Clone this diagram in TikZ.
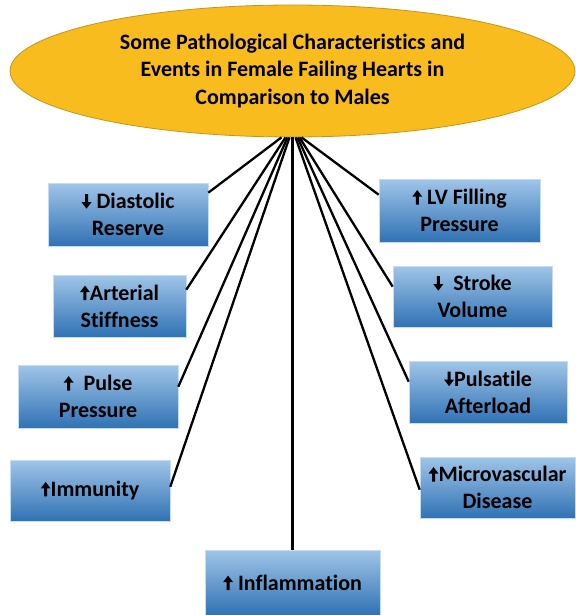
\documentclass[tikz,border=0pt]{standalone}
\usepackage{fontspec}
\setmainfont{Carlito}[Ligatures=NoCommon]
\usetikzlibrary{shapes.geometric}

\definecolor{ouro}{RGB}{248,188,30}
\definecolor{ourobordo}{RGB}{196,150,20}
\definecolor{azulclaro}{RGB}{160,197,232}
\definecolor{azulescuro}{RGB}{48,114,180}

% setas cheias dentro do texto
\newcommand{\sobe}{\tikz[baseline=0pt,x=1pt,y=1pt]\fill[black]
   (-1.5,0) -- (-1.5,8) -- (-5,8) -- (0,14.5) -- (5,8) -- (1.5,8) -- (1.5,0) -- cycle;}
\newcommand{\desce}{\tikz[baseline=0pt,x=1pt,y=1pt]\fill[black]
   (-1.5,14.5) -- (-1.5,6.5) -- (-5,6.5) -- (0,0) -- (5,6.5) -- (1.5,6.5) -- (1.5,14.5) -- cycle;}

\tikzset{
   caixa/.style={rectangle, top color=azulclaro, bottom color=azulescuro,
      draw=azulclaro!60, line width=.6pt, align=center, inner sep=2pt,
      font=\bfseries\fontsize{22}{27}\selectfont},
   titulo/.style={ellipse, fill=ouro, draw=ourobordo, line width=.8pt,
      align=center, font=\bfseries\fontsize{22}{27.5}\selectfont},
   haste/.style={line width=2.3pt, color=black}
}

\begin{document}
\begin{tikzpicture}[x=1pt,y=-1pt]
   \useasboundingbox (0,0) rectangle (575,615);

   \node[titulo, minimum width=565pt, minimum height=132pt, inner sep=0pt] (centro) at (292.5,71)
      {Some Pathological Characteristics and\\Events in Female Failing Hearts in\\Comparison to Males};

   % lado esquerdo
   \node[caixa, minimum width=160pt, minimum height=63pt] (diast) at (128,214.5) {\desce\ Diastolic\\Reserve};
   \node[caixa, minimum width=133pt, minimum height=62pt] (arter) at (119.5,306) {\sobe Arterial\\Stiffness};
   \node[caixa, minimum width=160pt, minimum height=63pt] (pulso) at (98,396.5) {\sobe\ \ Pulse\\Pressure};
   \node[caixa, minimum width=160pt, minimum height=61pt] (imuni) at (90,490.5) {\sobe Immunity};
   \node[caixa, minimum width=175pt, minimum height=65pt] (infla) at (292.5,582.5) {\sobe\ Inflammation};

   % lado direito
   \node[caixa, minimum width=161pt, minimum height=63pt] (enchi) at (459.5,210.5) {\sobe\ LV Filling\\Pressure};
   \node[caixa, minimum width=159pt, minimum height=61pt] (volum) at (472.5,296.5) {\desce\ \ Stroke\\Volume};
   \node[caixa, minimum width=158pt, minimum height=62pt] (poscg) at (488,392) {\desce Pulsatile\\Afterload};
   \node[caixa, minimum width=155pt, minimum height=61pt] (micro) at (497.5,487.5) {\sobe Microvascular\\Disease};

   \draw[haste] ([xshift=-11pt]centro.south) -- ([yshift=-10pt]diast.north east);
   \draw[haste] ([xshift=-7pt]centro.south) -- ([yshift=-15pt]arter.north east);
   \draw[haste] ([xshift=-5pt]centro.south) -- ([yshift=-22pt]pulso.north east);
   \draw[haste] ([xshift=-3pt]centro.south) -- ([yshift=-27pt]imuni.north east);
   \draw[haste] (infla.north |- centro.south) -- (infla.north);
   \draw[haste] ([xshift=3pt]centro.south) -- ([yshift=-33pt]micro.north west);
   \draw[haste] ([xshift=5pt]centro.south) -- ([yshift=-21pt]poscg.north west);
   \draw[haste] ([xshift=7pt]centro.south) -- ([yshift=-21pt]volum.north west);
   \draw[haste] ([xshift=9pt]centro.south) -- ([yshift=-16pt]enchi.north west);
\end{tikzpicture}
\end{document}
